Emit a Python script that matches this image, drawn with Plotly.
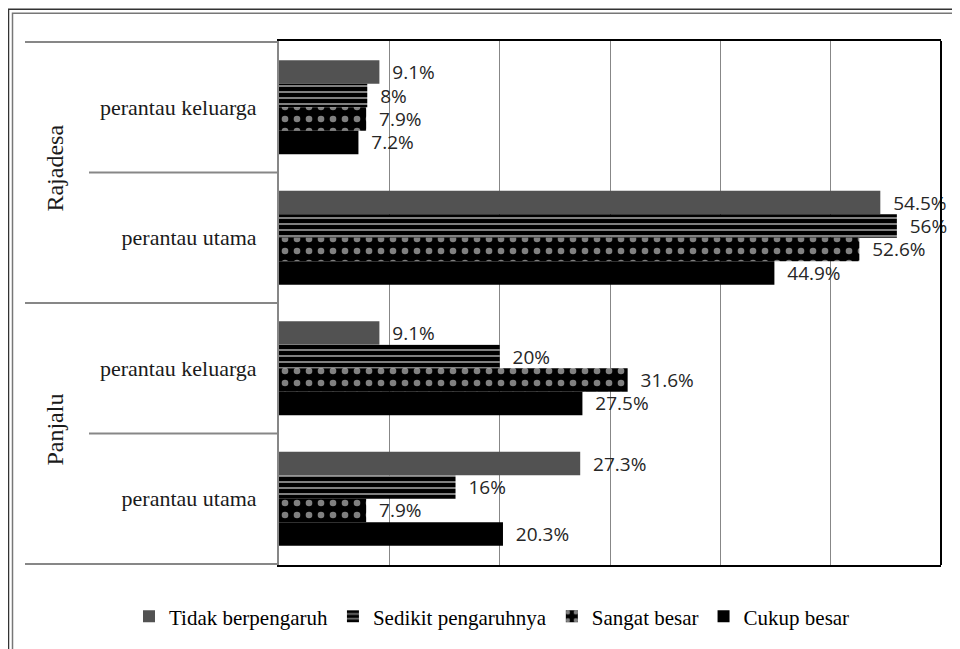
import plotly.graph_objects as go

# data (percent)
wilayah = ['Rajadesa', 'Rajadesa', 'Panjalu', 'Panjalu']
kategori = ['perantau keluarga', 'perantau utama', 'perantau keluarga', 'perantau utama']
tidak_berpengaruh = [9.1, 54.5, 9.1, 27.3]
sedikit_pengaruhnya = [8, 56, 20, 16]
sangat_besar = [7.9, 52.6, 31.6, 7.9]
cukup_besar = [7.2, 44.9, 27.5, 20.3]
grup = ['Rajadesa', 'Panjalu']

# the page body has an 8px margin, so work in page pixels and shift
OFF = 8
FW, FH = 960 - OFF, 649 - OFF
L, R, T, B = 279, 941, 41, 568   # plot box in page pixels
W, H = R - L, B - T


def px_x(p):
    return (p - L) / W


def px_y(p):
    return (B - p) / H


pos = list(range(len(kategori)))
serif = 'Liberation Serif'
sans = 'Open Sans'

fig = go.Figure()

series = [
    ('Tidak berpengaruh', tidak_berpengaruh, dict(color='#525252')),
    ('Sedikit pengaruhnya', sedikit_pengaruhnya,
     dict(color='black', pattern=dict(shape='-', fgcolor='white', bgcolor='black',
                                      fillmode='overlay', size=6, solidity=0.33))),
    ('Sangat besar', sangat_besar,
     dict(color='black', pattern=dict(shape='.', fgcolor='white', bgcolor='black',
                                      fillmode='overlay', size=12, solidity=0.24))),
    ('Cukup besar', cukup_besar, dict(color='black')),
]

for nama, vals, mk in series:
    fig.add_trace(go.Bar(
        name=nama,
        x=vals,
        y=pos,
        orientation='h',
        marker=dict(line=dict(width=0), **mk),
        text=vals,
        texttemplate='\u00a0\u00a0%{x}%',
        textposition='outside',
        constraintext='none',
        cliponaxis=False,
        textfont=dict(family=sans, size=19, color='#262626'),
    ))

shapes = []
# category dividers on the left
for yv, outer in [(-0.5, True), (0.5, False), (1.5, True), (2.5, False), (3.5, True)]:
    shapes.append(dict(type='line', xref='paper', yref='y',
                       x0=px_x(25 if outer else 89), x1=0, y0=yv, y1=yv,
                       line=dict(color='#878787', width=2)))
# right border of the plot
shapes.append(dict(type='line', xref='paper', yref='paper', x0=1, x1=1, y0=0, y1=1,
                   line=dict(color='black', width=2)))
# double frame around the picture
shapes.append(dict(type='rect', xref='paper', yref='paper',
                   x0=px_x(8.5), x1=px_x(975), y0=px_y(680), y1=px_y(9),
                   line=dict(color='#333333', width=1.5)))
shapes.append(dict(type='rect', xref='paper', yref='paper',
                   x0=px_x(12.5), x1=px_x(975), y0=px_y(680), y1=px_y(13),
                   line=dict(color='#777777', width=1.5)))

annotations = []
for i, g in enumerate(grup):
    annotations.append(dict(text=g, xref='paper', yref='y', x=px_x(55), y=0.47 + 2 * i,
                            xanchor='center', yanchor='middle',
                            textangle=-90, showarrow=False,
                            font=dict(family=serif, size=24, color='#1a1a1a')))

fig.update_layout(
    barmode='group',
    bargap=0.28,
    bargroupgap=0,
    width=FW,
    height=FH,
    margin=dict(l=L - OFF, r=FW - (R - OFF), t=T - OFF, b=FH - (B - OFF)),
    font=dict(family=serif, color='black'),
    paper_bgcolor='white',
    plot_bgcolor='white',
    showlegend=True,
    legend=dict(orientation='h', x=px_x(129), xanchor='left', y=px_y(620), yanchor='middle',
                font=dict(family=serif, size=21, color='black')),
    shapes=shapes,
    annotations=annotations,
)

fig.update_xaxes(range=[0, 60], dtick=10, showgrid=True, gridcolor='#878787', gridwidth=1,
                 showticklabels=False, zeroline=False,
                 showline=True, linecolor='black', linewidth=2, mirror=True)
fig.update_yaxes(autorange='reversed', tickvals=pos, ticktext=kategori,
                 showgrid=False, zeroline=False, showline=True, linecolor='#878787', linewidth=2,
                 ticks='', ticklabelstandoff=16,
                 tickfont=dict(family=serif, size=22, color='#1a1a1a'))

fig.write_html('out.html')
